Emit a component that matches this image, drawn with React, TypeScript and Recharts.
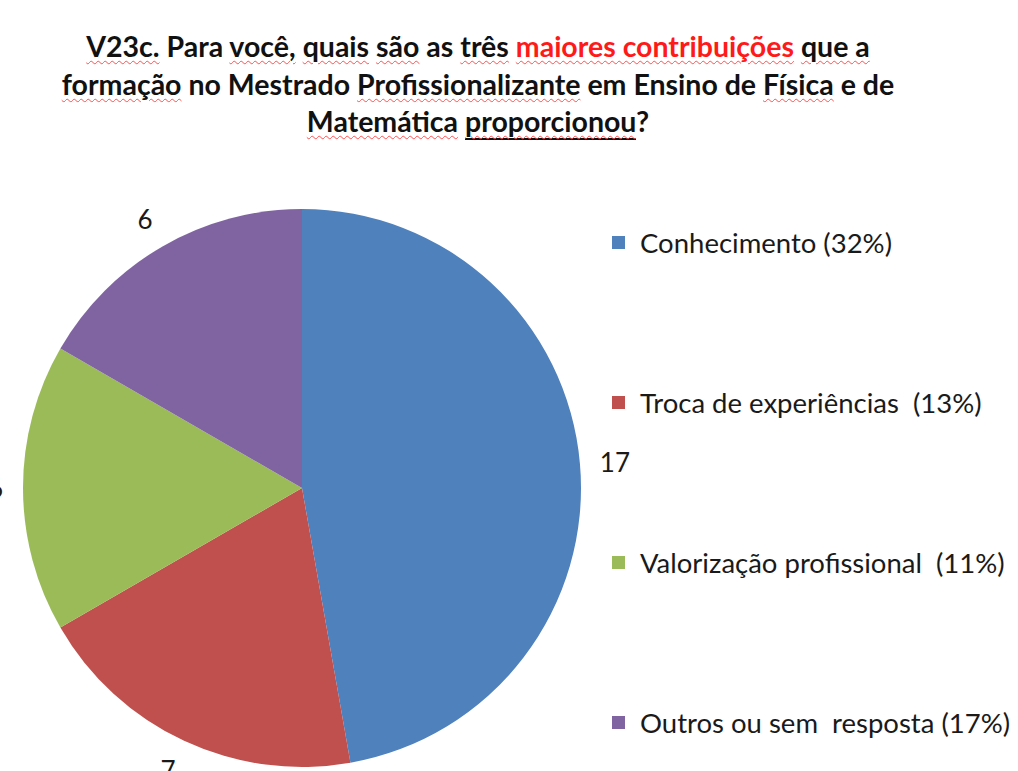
import React from 'react';
import { PieChart, Pie, Cell, Legend } from 'recharts';

const categories = [
  'Conhecimento (32%)',
  'Troca de experiências  (13%)',
  'Valorização profissional  (11%)',
  'Outros ou sem  resposta (17%)',
];
const values = [17, 7, 6, 6];
const colors = ['#4F81BD', '#C0504D', '#9BBB59', '#8064A2'];

type Seg = { t: string; red?: boolean; wavy?: boolean; solid?: boolean };
const titleLine1: Seg[] = [
  { t: 'V23c.', wavy: true }, { t: ' Para ' }, { t: 'você,', wavy: true }, { t: ' ' },
  { t: 'quais', wavy: true }, { t: ' ' }, { t: 'são', wavy: true }, { t: ' as ' },
  { t: 'três', wavy: true }, { t: ' ' }, { t: 'maiores contribuições', red: true, wavy: true },
  { t: ' ' }, { t: 'que a', wavy: true },
];
const titleLine2: Seg[] = [
  { t: 'formação', wavy: true }, { t: ' no Mestrado ' }, { t: 'Profissionalizante', wavy: true },
  { t: ' em Ensino de ' }, { t: 'Física', wavy: true }, { t: ' e de' },
];
const titleLine3: Seg[] = [
  { t: 'Matemática', wavy: true }, { t: ' ' }, { t: 'proporcionou', wavy: true, solid: true }, { t: '?' },
];
const titleLines = [titleLine1, titleLine2, titleLine3];

const data = categories.map((name, i) => ({ name, value: values[i] }));

const FONT = 'Lato, "Open Sans", sans-serif';

const renderLabel = (props: any) => {
  const { cx, cy, midAngle, outerRadius, value } = props;
  const RAD = Math.PI / 180;
  const r = outerRadius + 20;
  const c = Math.cos(-midAngle * RAD);
  const s = Math.sin(-midAngle * RAD);
  const x = cx + r * c;
  const y = cy + r * s;
  const anchor = c > 0.1 ? 'start' : c < -0.1 ? 'end' : 'middle';
  const baseline = s < -0.3 ? 'auto' : s > 0.3 ? 'hanging' : 'central';
  return (
    <text x={x} y={y} textAnchor={anchor} dominantBaseline={baseline}
      fill="#1a1a1a" fontSize={26} fontFamily={FONT}>
      {value}
    </text>
  );
};

const renderLegend = () => (
  <div style={{ fontFamily: FONT, fontSize: 27.5, color: '#1a1a1a' }}>
    {categories.map((c, i) => (
      <div key={c} style={{ height: 160, display: 'flex', alignItems: 'flex-start' }}>
        <div style={{ display: 'flex', alignItems: 'center', height: 32 }}>
          <span style={{ width: 13, height: 13, background: colors[i], display: 'inline-block', marginRight: 15, flexShrink: 0 }} />
          <span style={{ whiteSpace: 'pre' }}>{c}</span>
        </div>
      </div>
    ))}
  </div>
);

export default function App() {
  return (
    <div style={{ position: 'absolute', left: 0, top: 0, width: 1018, height: 771, overflow: 'hidden', background: '#fff' }}>
      <div style={{ position: 'absolute', left: 0, top: 28, width: 956, textAlign: 'center', fontFamily: FONT, fontWeight: 700, fontSize: 28.5, lineHeight: '37.5px', color: '#111' }}>
        {titleLines.map((line, li) => (
          <div key={li} style={{ whiteSpace: 'pre' }}>
            {line.map((sg, si) => (
              <span key={si} style={{
                color: sg.red ? '#FF1A1A' : '#111',
                textDecorationLine: sg.wavy ? 'underline' : 'none',
                textDecorationStyle: 'wavy',
                textDecorationColor: '#FF5050',
                textDecorationThickness: 1,
                textUnderlineOffset: 3,
                borderBottom: sg.solid ? '2px solid #111' : undefined,
              }}>{sg.t}</span>
            ))}
          </div>
        ))}
      </div>
      <div style={{ position: 'absolute', left: 0, top: 0 }}>
        <PieChart width={1018} height={771} margin={{ top: 0, right: 0, bottom: 0, left: 0 }}>
          <Pie data={data} dataKey="value" nameKey="name" cx={302} cy={488}
            outerRadius={279} startAngle={90} endAngle={-270} stroke="none"
            isAnimationActive={false} label={renderLabel} labelLine={false}>
            {data.map((d, i) => <Cell key={d.name} fill={colors[i]} />)}
          </Pie>
          <Legend content={renderLegend} layout="vertical" verticalAlign="top" align="right"
            wrapperStyle={{ position: 'absolute', left: 612, top: 226, width: 406 }} />
        </PieChart>
      </div>
    </div>
  );
}
